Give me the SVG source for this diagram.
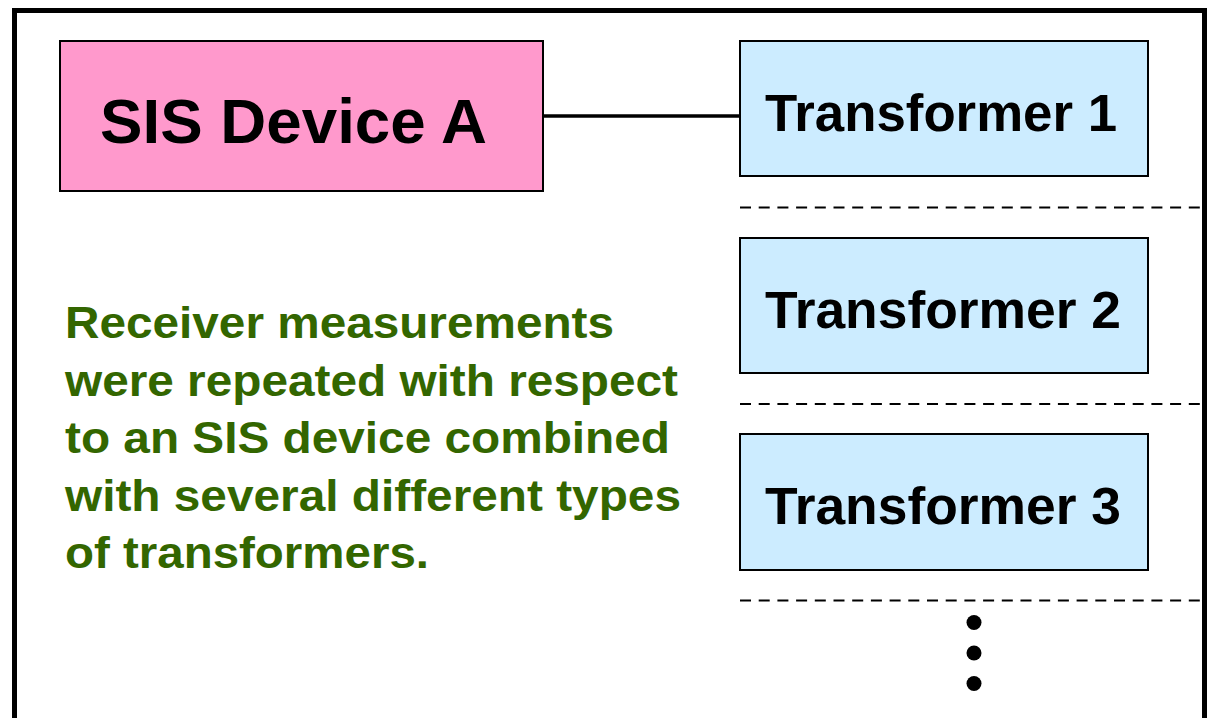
<svg xmlns="http://www.w3.org/2000/svg" width="1208" height="718" viewBox="0 0 1208 718">
  <style>
    .frame { fill: none; stroke: #000; stroke-width: 5; }
    .box { stroke: #000; stroke-width: 2; }
    .device { fill: #FF99CC; }
    .xfmr { fill: #CCECFF; }
    .label { font-family: "Liberation Sans", Arial, sans-serif; font-weight: bold; fill: #000; }
    .note { font-family: "Liberation Sans", Arial, sans-serif; font-weight: bold; fill: #336600; font-size: 45px; }
    .sep { stroke: #000; stroke-width: 2; stroke-dasharray: 11 7.7; fill: none; }
    .wire { stroke: #000; stroke-width: 3.5; fill: none; }
  </style>
  <rect width="1208" height="718" fill="#fff"/>

  <!-- outer frame (bottom edge runs off the page) -->
  <path class="frame" d="M14.5 730 V10.5 H1204.5 V730"/>

  <g id="connectors">
    <line class="wire" x1="543" y1="116" x2="740" y2="116"/>
  </g>

  <g id="separators">
    <line class="sep" x1="740" y1="207.5" x2="1200" y2="207.5"/>
    <line class="sep" x1="740" y1="404" x2="1200" y2="404"/>
    <line class="sep" x1="740" y1="600.5" x2="1200" y2="600.5"/>
  </g>

  <g id="sis-device-a">
    <rect class="box device" x="60" y="41" width="483" height="150"/>
    <text class="label" x="100" y="143" font-size="63" textLength="387" lengthAdjust="spacingAndGlyphs">SIS Device A</text>
  </g>

  <g id="transformer-1">
    <rect class="box xfmr" x="740" y="41" width="408" height="135"/>
    <text class="label" x="765" y="131" font-size="51" textLength="352" lengthAdjust="spacingAndGlyphs">Transformer 1</text>
  </g>

  <g id="transformer-2">
    <rect class="box xfmr" x="740" y="238" width="408" height="135"/>
    <text class="label" x="765" y="328" font-size="51" textLength="356" lengthAdjust="spacingAndGlyphs">Transformer 2</text>
  </g>

  <g id="transformer-3">
    <rect class="box xfmr" x="740" y="434" width="408" height="136"/>
    <text class="label" x="765" y="524" font-size="51" textLength="356" lengthAdjust="spacingAndGlyphs">Transformer 3</text>
  </g>

  <g id="more">
    <circle cx="974" cy="622.5" r="7.5"/>
    <circle cx="974" cy="653" r="7.5"/>
    <circle cx="974" cy="683.5" r="7.5"/>
  </g>

  <g id="note">
    <text class="note" x="65" y="338" textLength="549" lengthAdjust="spacingAndGlyphs">Receiver measurements</text>
    <text class="note" x="65" y="396" textLength="613" lengthAdjust="spacingAndGlyphs">were repeated with respect</text>
    <text class="note" x="65" y="453" textLength="605" lengthAdjust="spacingAndGlyphs">to an SIS device combined</text>
    <text class="note" x="65" y="511" textLength="616" lengthAdjust="spacingAndGlyphs">with several different types</text>
    <text class="note" x="65" y="568" textLength="364" lengthAdjust="spacingAndGlyphs">of transformers.</text>
  </g>
</svg>
